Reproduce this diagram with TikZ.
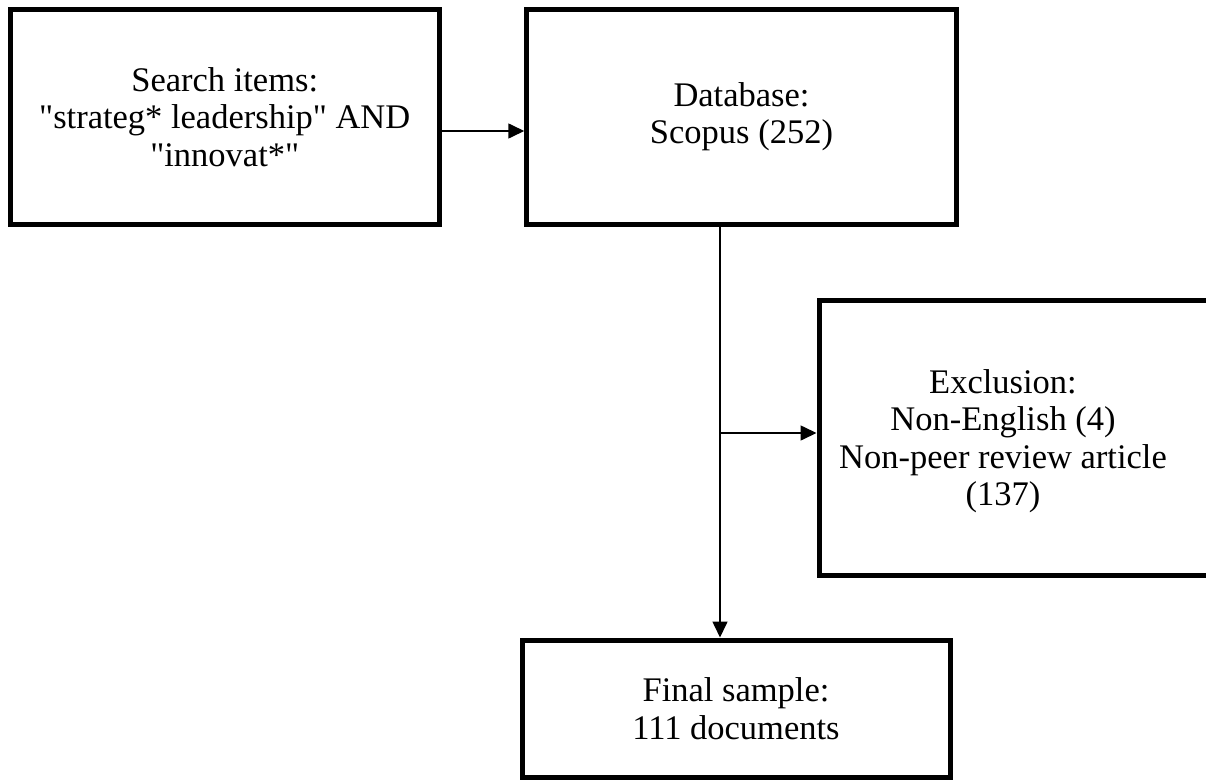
\documentclass[tikz,border=0pt]{standalone}
\usepackage{fontspec}
\setmainfont{Liberation Serif}[Ligatures=TeXOff]
\usetikzlibrary{arrows.meta}
\begin{document}
\begin{tikzpicture}[x=1pt,y=-1pt,
  box/.style={draw, line width=5pt, inner sep=0pt, align=center, font=\fontsize{34.5}{37.5}\selectfont},
  txt/.style={inner sep=0pt, align=center, font=\fontsize{34.5}{37.5}\selectfont},
  conn/.style={line width=1.6pt},
  arr/.style={conn, -{Triangle[length=16pt,width=15pt]}}]
\clip (0,0) rectangle (1206,781);
\fill[white] (0,0) rectangle (1206,781);
\node[box, minimum width=429.5pt, minimum height=214.5pt] (b1) at (224.75,116.75)
  {Search items:\\"strateg* leadership" AND\\"innovat*"};
\node[box, minimum width=429.5pt, minimum height=214.5pt] (b2) at (741.5,116.75)
  {Database:\\Scopus (252)};
\node[box, minimum width=396pt, minimum height=275.5pt] (excl) at (1017,437.75) {};
\node[txt] (excltext) at (1003,441)
  {Exclusion:\\Non-English (4)\\Non-peer review article\\(137)};
\node[box, minimum width=428pt, minimum height=137.5pt] (fin) at (736,708.75)
  {Final sample:\\111 documents};
\coordinate (a1) at (0,131);
\coordinate (split) at (720,433);
\draw[arr] (a1 -| b1.east) -- (a1 -| b2.west);
\draw[arr] (split |- b2.south) -- (split |- fin.north);
\draw[arr] (split) -- (split -| excl.west);
\end{tikzpicture}
\end{document}
